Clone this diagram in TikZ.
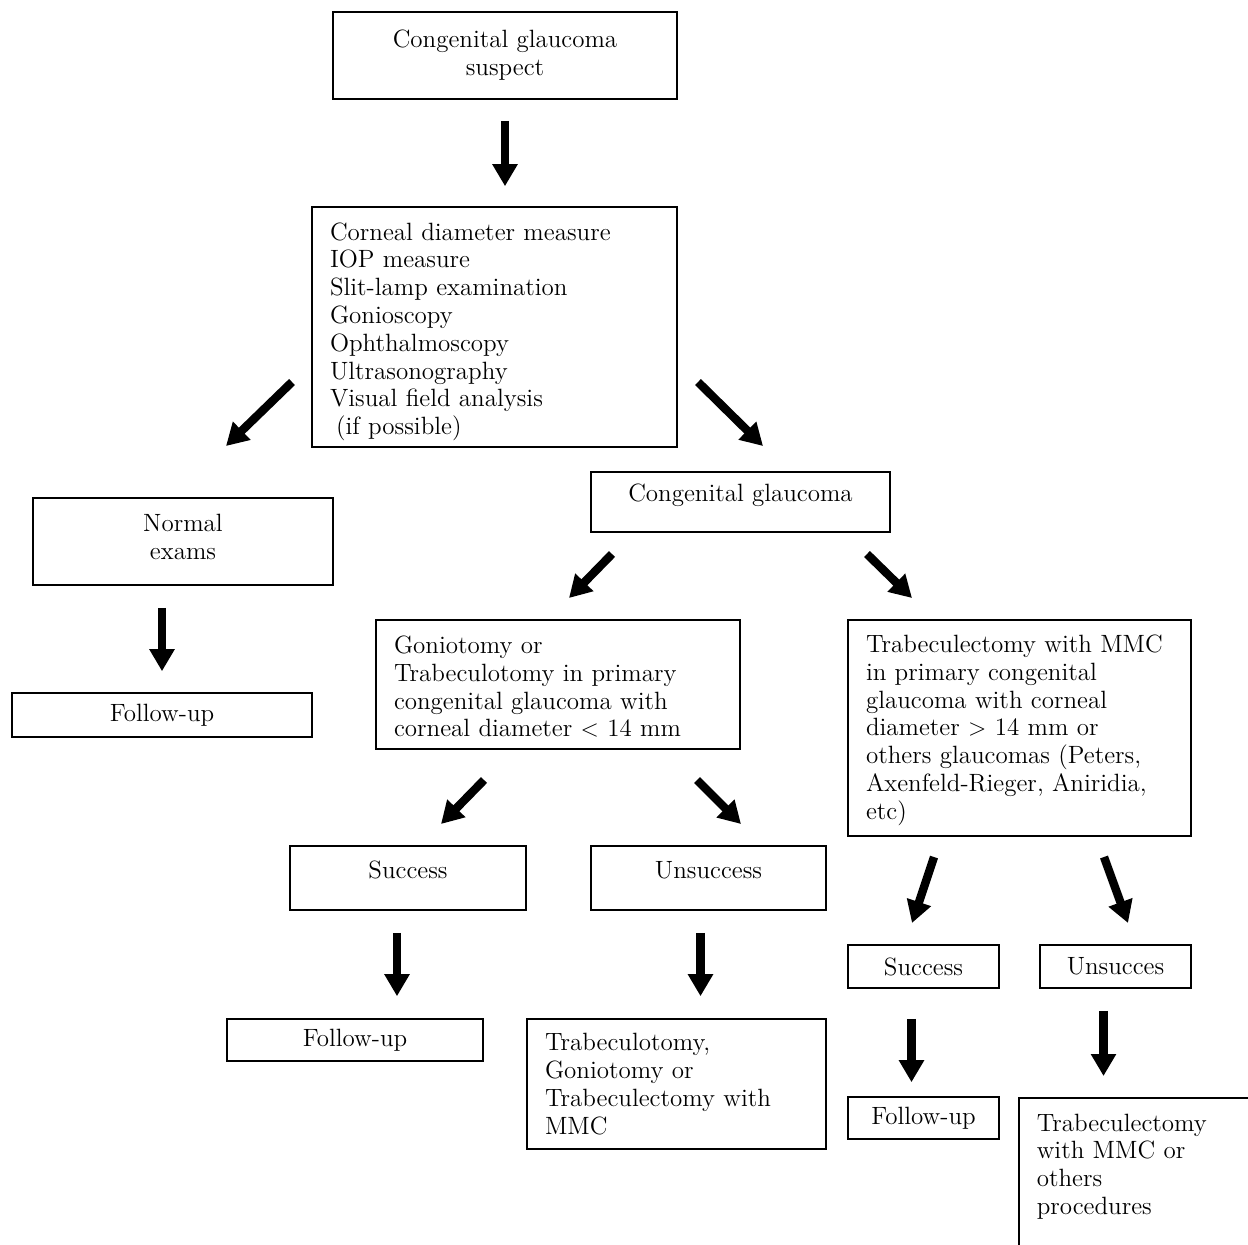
\documentclass[tikz,border=0pt]{standalone}
\usetikzlibrary{arrows.meta,calc}

\begin{document}
\begin{tikzpicture}[
       x=0.5pt, y=-0.5pt,
       box/.style={draw, line width=0.8pt, inner sep=0pt, align=center,
               font=\fontsize{12.5}{13.9}\selectfont},
       lbox/.style={box, align=left, inner xsep=9pt},
       arrow/.style={draw, line width=4.2pt, -{Triangle[length=11pt,width=12pt]}},
       ]
       \useasboundingbox (0,0) rectangle (1248,1244);
       \node (suspect) [box, minimum width=172pt, minimum height=43.5pt] at (505,55.5) {Congenital glaucoma\\suspect};
       \node (exams) [lbox, text width=164.5pt, minimum height=120pt, text height=13.5pt] at (494.5,327) {Corneal diameter measure\\IOP measure\\Slit-lamp examination\\Gonioscopy\\Ophthalmoscopy\\Ultrasonography\\Visual field analysis\\\hspace*{3pt}(if possible)};
       \node (normal) [box, minimum width=150pt, minimum height=43.5pt, text depth=5pt] at (183,541.5) {Normal\\exams};
       \node (followA) [box, minimum width=150pt, minimum height=22pt] at (162,715) {Follow-up};
       \node (glaucoma) [box, minimum width=149.5pt, minimum height=30pt, text depth=9pt] at (740.5,502) {Congenital glaucoma};
       \node (gonio) [lbox, text width=164pt, minimum height=64.5pt, text height=11pt] at (558,684.5) {Goniotomy or\\Trabeculotomy in primary\\congenital glaucoma with\\corneal diameter $<$ 14 mm};
       \node (trabmmc) [lbox, text width=153.5pt, minimum height=108pt, text height=11pt] at (1019.5,728) {Trabeculectomy with MMC\\in primary congenital\\glaucoma with corneal\\diameter $>$ 14 mm or\\others glaucomas (Peters,\\Axenfeld-Rieger, Aniridia,\\etc)};
       \node (successA) [box, minimum width=118pt, minimum height=32pt, text depth=8pt] at (408,878) {Success};
       \node (unsuccessA) [box, minimum width=117.5pt, minimum height=32pt, text depth=8pt] at (708.5,878) {Unsuccess};
       \node (followB) [box, minimum width=128pt, minimum height=21pt] at (355,1040) {Follow-up};
       \node (redo) [lbox, text width=131.5pt, minimum height=65pt] at (676.5,1084) {Trabeculotomy,\\Goniotomy or\\Trabeculectomy with\\MMC};
       \node (successB) [box, minimum width=75.5pt, minimum height=21.5pt] at (923.5,966.5) {Success};
       \node (unsuccessB) [box, minimum width=75.5pt, minimum height=21.5pt] at (1115.5,966.5) {Unsucces};
       \node (followC) [box, minimum width=75.5pt, minimum height=21pt] at (923.5,1118) {Follow-up};
       \node (other) [lbox, anchor=north west, text width=112pt, inner ysep=8pt, text depth=100pt] at (1018,1097) {Trabeculectomy\\with MMC or\\others\\procedures};
       % free ends of the slanted arrows
       \coordinate (exams-l) at (292,382);   \coordinate (normal-in) at (226,446);
       \coordinate (exams-r) at (698,382);   \coordinate (glaucoma-in) at (763,446);
       \coordinate (glaucoma-l) at (612,554); \coordinate (gonio-in) at (569,598);
       \coordinate (glaucoma-r) at (867,554); \coordinate (trabmmc-in) at (912,598);
       \coordinate (gonio-l) at (484,780);   \coordinate (successA-in) at (441,824);
       \coordinate (gonio-r) at (697,780);   \coordinate (unsuccessA-in) at (741,824);
       \coordinate (trabmmc-l) at (934,857); \coordinate (successB-in) at (912,923);
       \coordinate (trabmmc-r) at (1104,857); \coordinate (unsuccessB-in) at (1128,923);
       \begin{scope}[every path/.style=arrow]
       \path [shorten <=10.5pt, shorten >=10pt] (suspect.south) -- (suspect.south |- exams.north);
       \path (exams-l) -- (normal-in);
       \path (exams-r) -- (glaucoma-in);
       \path [shorten <=11pt, shorten >=10.5pt] (followA.north |- normal.south) -- (followA.north);
       \path (glaucoma-l) -- (gonio-in);
       \path (glaucoma-r) -- (trabmmc-in);
       \path (gonio-l) -- (successA-in);
       \path (gonio-r) -- (unsuccessA-in);
       \path [shorten <=11pt, shorten >=11pt] ([xshift=-5.5pt]successA.south) -- ([xshift=-5.5pt]successA.south |- followB.north);
       \path [shorten <=11pt, shorten >=11pt] ([xshift=-4pt]unsuccessA.south) -- ([xshift=-4pt]unsuccessA.south |- redo.north);
       \path (trabmmc-l) -- (successB-in);
       \path (trabmmc-r) -- (unsuccessB-in);
       \path [shorten <=15pt, shorten >=7pt] ([xshift=-6pt]successB.south) -- ([xshift=-6pt]successB.south |- followC.north);
       \path [shorten <=11pt, shorten >=10.5pt] ([xshift=-6pt]unsuccessB.south) -- ([xshift=-6pt]unsuccessB.south |- other.north);
       \end{scope}
\end{tikzpicture}
\end{document}
